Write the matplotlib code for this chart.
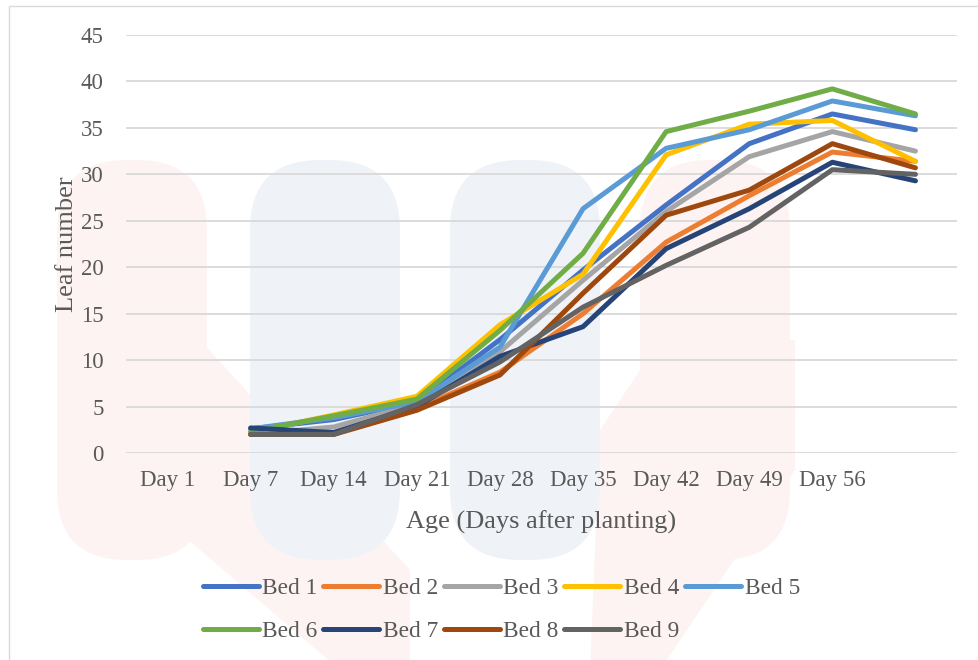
import numpy as np
import matplotlib.pyplot as plt
from matplotlib.patches import FancyBboxPatch, Polygon, Rectangle

nan = np.nan
days = ["Day 1", "Day 7", "Day 14", "Day 21", "Day 28", "Day 35", "Day 42", "Day 49", "Day 56", ""]

bed1 = [nan, 2.6, 3.6, 5.5, 12.2, 19.7, 26.7, 33.3, 36.5, 34.8]
bed2 = [nan, 2.0, 2.2, 4.8, 8.7, 15.0, 22.7, 27.7, 32.4, 31.4]
bed3 = [nan, 2.0, 2.8, 5.3, 10.9, 18.6, 26.0, 31.9, 34.6, 32.5]
bed4 = [nan, 2.2, 4.1, 6.1, 13.8, 19.25, 32.1, 35.4, 35.8, 31.4]
bed5 = [nan, 2.6, 3.8, 5.5, 11.4, 26.3, 32.8, 34.8, 37.9, 36.3]
bed6 = [nan, 2.3, 4.0, 5.8, 13.2, 21.5, 34.6, 36.8, 39.2, 36.5]
bed7 = [nan, 2.7, 2.2, 5.0, 10.4, 13.6, 22.0, 26.3, 31.3, 29.3]
bed8 = [nan, 2.0, 2.0, 4.6, 8.4, 17.2, 25.6, 28.3, 33.3, 30.7]
bed9 = [nan, 2.0, 2.0, 5.2, 9.8, 15.7, 20.2, 24.3, 30.5, 30.0]

series = [bed1, bed2, bed3, bed4, bed5, bed6, bed7, bed8, bed9]
names = ["Bed 1", "Bed 2", "Bed 3", "Bed 4", "Bed 5", "Bed 6", "Bed 7", "Bed 8", "Bed 9"]
colors = ["#4472C4", "#ED7D31", "#A5A5A5", "#FFC000", "#5B9BD5",
          "#70AD47", "#264478", "#9E480E", "#636363"]

plt.rcParams['font.family'] = ['Liberation Serif', 'DejaVu Serif']
txt = "#595959"

fig = plt.figure(figsize=(9.79, 6.6), dpi=100)
H = 660

# faint watermark behind the chart (pixel coords)
pink = "#FEF3F3"
blue = "#EFF3F7"
fig.patches.append(Polygon([(60, H - 340), (200, H - 340), (410, H - 570), (410, H - 670), (340, H - 670), (60, H - 430)],
                           closed=True, transform=None, facecolor=pink, edgecolor="none", zorder=-2))
fig.patches.append(Polygon([(795, H - 340), (660, H - 340), (600, H - 430), (590, H - 670), (660, H - 670), (795, H - 470)],
                           closed=True, transform=None, facecolor=pink, edgecolor="none", zorder=-2))
for x0, col in [(57, pink), (250, blue), (450, blue), (640, pink)]:
    fig.patches.append(FancyBboxPatch((x0, H - 560), 150, 400, boxstyle="round,pad=0,rounding_size=70",
                                      transform=None, facecolor=col, edgecolor="none", zorder=-2))
fig.patches.append(Rectangle((9, -10), 1000, H - 6 + 10, transform=None, facecolor="none",
                             edgecolor="#D9D9D9", lw=1.0, zorder=-1))

ax = fig.add_axes([126 / 979, 1 - 453 / 660, (957 - 126) / 979, (453 - 35) / 660])
ax.patch.set_alpha(0)
ax.set_zorder(2)

x = np.arange(len(days))
lines = []
for vals, name, c in zip(series, names, colors):
    ln, = ax.plot(x, vals, color=c, lw=3.6, label=name,
                  solid_capstyle="round", solid_joinstyle="round")
    lines.append(ln)

ax.set_xlim(-0.5, len(days) - 0.5)
ax.set_ylim(0, 45)
ax.set_yticks(range(0, 46, 5))
ax.set_xticks(x)
ax.set_xticklabels(days)
ax.grid(axis="y", color="#D9D9D9", lw=1.3)
ax.set_axisbelow(True)
for s in ax.spines.values():
    s.set_visible(False)
ax.tick_params(length=0, labelsize=16.5, colors=txt)
ax.tick_params(axis="x", pad=12)
ax.tick_params(axis="y", pad=16)
ax.set_xlabel("Age (Days after planting)", fontsize=19, color=txt, labelpad=14)
ax.set_ylabel("Leaf number", fontsize=19, color=txt, labelpad=2)

order = [0, 5, 1, 6, 2, 7, 3, 8, 4]
leg = fig.legend([lines[i] for i in order], [names[i] for i in order], ncol=5,
                 loc="center", bbox_to_anchor=(0.512, 1 - 610 / 660), frameon=False,
                 fontsize=16.8, handlelength=2.4, handletextpad=0.15, columnspacing=0.25,
                 labelspacing=0.95, labelcolor=txt)
leg.set_zorder(3)
for h in leg.legend_handles:
    h.set_linewidth(3.6)

fig.savefig("out.png", dpi=100)
